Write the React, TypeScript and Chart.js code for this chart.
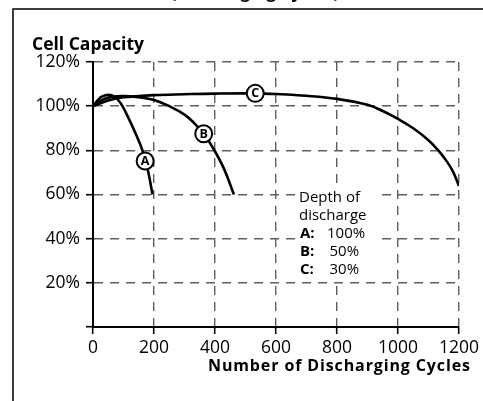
import React, { useEffect, useRef } from 'react';
import { Chart, registerables } from 'chart.js';

Chart.register(...registerables);

const FONT = "'Open Sans', 'Noto Sans', sans-serif";

// Axis ticks
const xTicks = [0, 200, 400, 600, 800, 1000, 1200];
const xTickLabels = ['0', '200', '400', '600', '800', '1000', '1200'];
const yTicks = [0, 20, 40, 60, 80, 100, 120];
const yTickLabels = ['', '20%', '40%', '60%', '80%', '100%', '120%'];

// Series A: 100% depth of discharge
const aCycles = [0, 15, 30, 51, 70, 90, 113, 140, 162, 180, 195];
const aCapacity = [100, 102.6, 104.4, 105.2, 104.4, 101.5, 95.6, 87.5, 80, 71, 60];
// Series B: 50% depth of discharge
const bCycles = [0, 30, 60, 100, 150, 200, 250, 300, 334, 363, 396, 430, 462];
const bCapacity = [100, 102.8, 104.2, 104.6, 104, 102.8, 100, 96.2, 92, 87.5, 80.5, 71.5, 60];
// Series C: 30% depth of discharge
const cCycles = [0, 50, 100, 200, 300, 400, 530, 600, 700, 800, 900, 950, 1000, 1050, 1100, 1130, 1160, 1180, 1200];
const cCapacity = [100, 102.6, 104, 105, 105.4, 105.7, 105.8, 105.5, 104.7, 103.3, 100.6, 97.8, 94.2, 90, 84.6, 80.3, 75, 70.5, 63.8];

// Circled series markers
const markerLetters = ['A', 'B', 'C'];
const markerCycles = [171, 363, 532];
const markerCapacity = [75.2, 87.5, 105.8];

// Texts
const topTitle = '(Discharging Cycles)';
const yAxisTitle = 'Cell Capacity';
const xAxisTitle = 'Number of Discharging Cycles';
const legendTitle = ['Depth of', 'discharge'];
const legendKeys = ['A:', 'B:', 'C:'];
const legendDepths = ['100%', '50%', '30%'];

const toPoints = (xs: number[], ys: number[]) => xs.map((x, i) => ({ x, y: ys[i] }));

const overlayPlugin = {
  id: 'overlay',
  afterDatasetsDraw(chart: any) {
    const { ctx } = chart;
    const xs = chart.scales.x;
    const ys = chart.scales.y;
    ctx.save();
    markerLetters.forEach((letter, i) => {
      const px = xs.getPixelForValue(markerCycles[i]);
      const py = ys.getPixelForValue(markerCapacity[i]);
      ctx.beginPath();
      ctx.arc(px, py, 8.5, 0, Math.PI * 2);
      ctx.fillStyle = '#fff';
      ctx.fill();
      ctx.lineWidth = 2;
      ctx.strokeStyle = '#000';
      ctx.stroke();
      ctx.fillStyle = '#000';
      ctx.font = `bold 12.5px ${FONT}`;
      ctx.textAlign = 'center';
      ctx.textBaseline = 'middle';
      ctx.fillText(letter, px, py + 0.5);
    });
    ctx.restore();
  },
  afterDraw(chart: any) {
    const { ctx } = chart;
    ctx.save();
    // frame
    ctx.strokeStyle = '#000';
    ctx.lineWidth = 1.5;
    ctx.beginPath();
    ctx.moveTo(13, 401);
    ctx.lineTo(13, 9);
    ctx.lineTo(483, 9);
    ctx.stroke();

    ctx.fillStyle = '#000';
    ctx.textBaseline = 'alphabetic';
    // cropped top title
    ctx.font = `bold 17px ${FONT}`;
    ctx.textAlign = 'center';
    ctx.fillText(topTitle, 255, -2);

    // y-axis title
    ctx.textAlign = 'left';
    ctx.font = `bold 17.5px ${FONT}`;
    ctx.fillText(yAxisTitle, 32, 50);

    // x-axis title (right aligned)
    ctx.font = `bold 16px ${FONT}`;
    const w = ctx.measureText(xAxisTitle).width;
    const targetW = 262;
    const ls = (targetW - w) / (xAxisTitle.length - 1);
    (ctx as any).letterSpacing = `${Math.max(0, ls)}px`;
    ctx.textAlign = 'left';
    ctx.fillText(xAxisTitle, 470 - targetW, 371);
    (ctx as any).letterSpacing = '0px';

    // legend box
    ctx.fillStyle = '#fff';
    ctx.fillRect(297, 187, 85, 93);
    ctx.fillStyle = '#000';
    ctx.font = `15px ${FONT}`;
    ctx.fillText(legendTitle[0], 299, 202);
    ctx.fillText(legendTitle[1], 299, 219.5);
    const baselines = [237.5, 255.5, 273.5];
    const valueX = [327, 329.5, 329.5];
    legendKeys.forEach((k, i) => {
      ctx.font = `bold 15px ${FONT}`;
      ctx.fillText(k, 300, baselines[i]);
      ctx.font = `15px ${FONT}`;
      ctx.fillText(legendDepths[i], valueX[i], baselines[i]);
    });
    ctx.restore();
  },
};

export default function App() {
  const canvasRef = useRef<HTMLCanvasElement | null>(null);

  useEffect(() => {
    document.body.style.margin = '0';
    const canvas = canvasRef.current;
    if (!canvas) return;
    const lineDs = (data: { x: number; y: number }[]) => ({
      data,
      borderColor: '#000',
      borderWidth: 2.6,
      pointRadius: 0,
      fill: false,
      tension: 0.4,
    });
    const gridOpts = {
      color: '#5e5e5e',
      lineWidth: 1.4,
      tickLength: 7,
      tickColor: '#000',
      tickWidth: 1.6,
      tickBorderDash: [],
    };
    const borderOpts = { display: true, color: '#000', width: 2, dash: [9, 7] };
    const chart = new Chart(canvas, {
      type: 'line',
      data: {
        datasets: [
          lineDs(toPoints(aCycles, aCapacity)),
          lineDs(toPoints(bCycles, bCapacity)),
          lineDs(toPoints(cCycles, cCapacity)),
        ],
      },
      options: {
        animation: false,
        responsive: false,
        maintainAspectRatio: false,
        devicePixelRatio: 1,
        layout: { padding: { left: 0, top: 62, right: 17, bottom: 0 } },
        plugins: {
          legend: { display: false },
          tooltip: { enabled: false },
          title: { display: false },
        },
        scales: {
          x: {
            type: 'linear',
            min: 0,
            max: 1200,
            afterFit: (s: any) => { s.height = 74; },
            afterBuildTicks: (s: any) => { s.ticks = xTicks.map((v) => ({ value: v })); },
            ticks: {
              autoSkip: false,
              maxRotation: 0,
              padding: 4,
              color: '#000',
              font: { family: FONT, size: 17.5 },
              callback: (v: any) => xTickLabels[xTicks.indexOf(Number(v))] ?? '',
            },
            grid: gridOpts,
            border: borderOpts,
          },
          y: {
            type: 'linear',
            min: 0,
            max: 120,
            afterFit: (s: any) => { s.width = 93; },
            afterBuildTicks: (s: any) => { s.ticks = yTicks.map((v) => ({ value: v })); },
            ticks: {
              autoSkip: false,
              padding: 6,
              color: '#000',
              font: { family: FONT, size: 17.5 },
              callback: (v: any) => yTickLabels[yTicks.indexOf(Number(v))] ?? '',
            },
            grid: gridOpts,
            border: borderOpts,
          },
        },
      },
      plugins: [overlayPlugin],
    } as any);
    return () => chart.destroy();
  }, []);

  return (
    <div style={{ position: 'fixed', left: 0, top: 0, width: 483, height: 401, background: '#fff' }}>
      <canvas ref={canvasRef} width={483} height={401} style={{ display: 'block', width: 483, height: 401 }} />
    </div>
  );
}
